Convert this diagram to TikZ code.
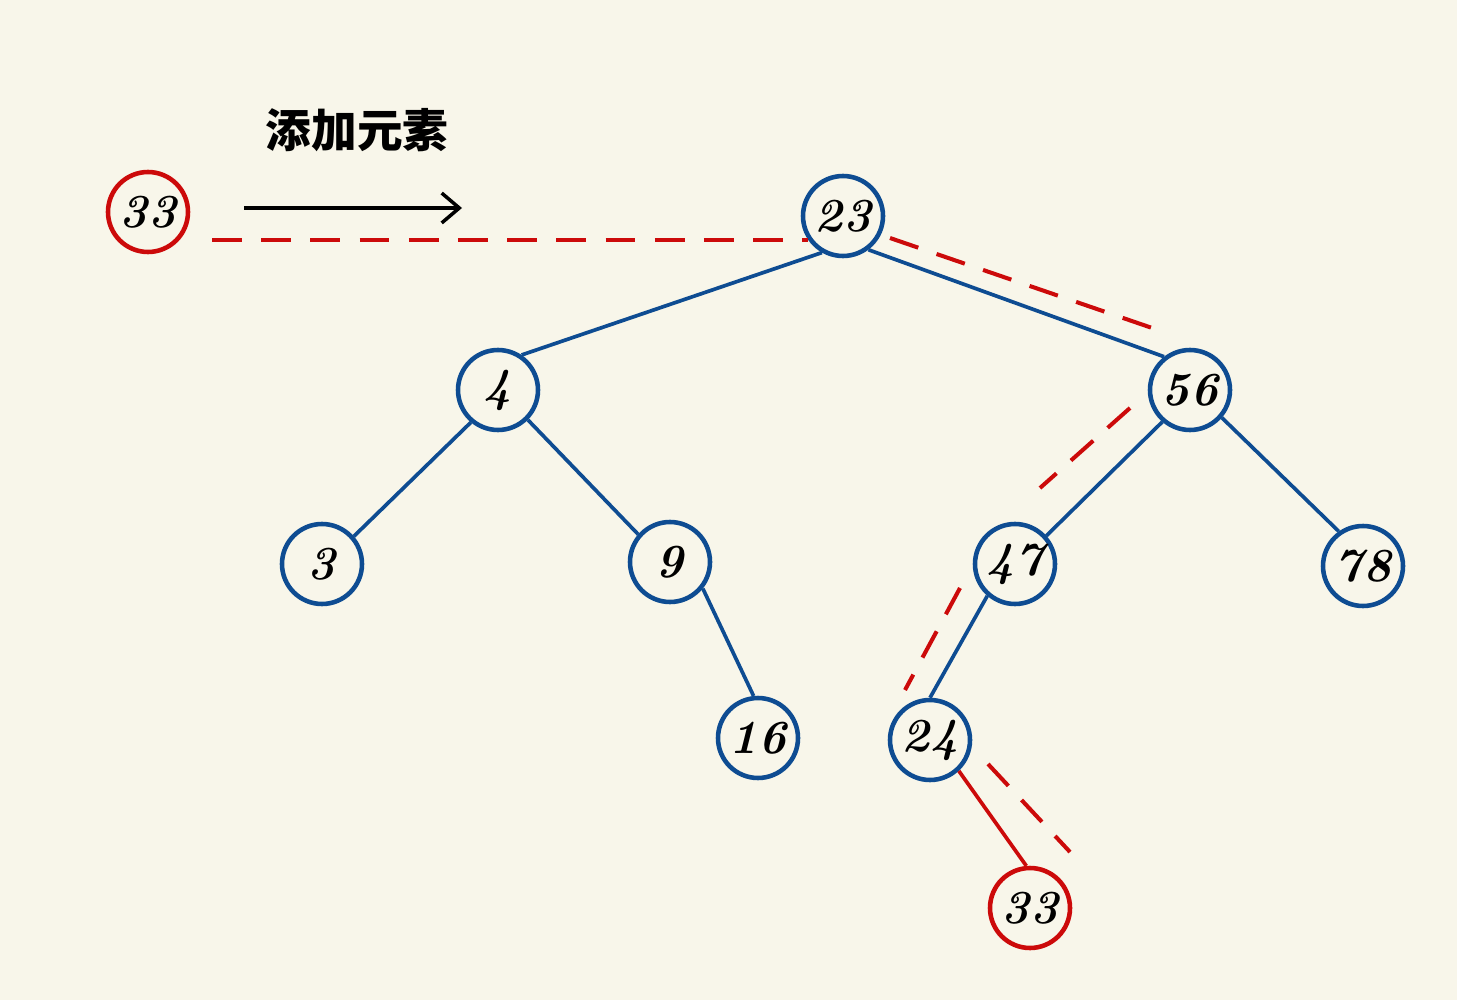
\documentclass[tikz,border=0pt]{standalone}
\usepackage{fontspec}
\newfontfamily\cjk{Noto Sans CJK SC}
\usetikzlibrary{arrows.meta}
\definecolor{bg}{HTML}{F8F6EA}
\definecolor{nblue}{HTML}{0E4C92}
\definecolor{nred}{HTML}{CC0A0A}
\tikzset{
  x=0.02cm, y=-0.02cm,
  bnode/.style={circle, draw=nblue, line width=2.6pt, inner sep=0pt, font=\fontsize{27}{27}\selectfont\bfseries\itshape, minimum size=1.6cm},
  rnode/.style={bnode, draw=nred},
  tedge/.style={draw=nblue, line width=2.1pt},
  redge/.style={draw=nred, line width=2.1pt},
  rdash/.style={draw=nred, line width=2.3pt, dash pattern=on 17pt off 11pt},
}
\begin{document}
\begin{tikzpicture}
\fill[bg] (0,0) rectangle (1457,1000);
\useasboundingbox (0,0) rectangle (1457,1000);
\node[rnode] (n33a) at (148,212) {33};
\node[bnode] (n23) at (843,216) {23};
\node[bnode] (n4) at (498,390) {4};
\node[bnode] (n56) at (1190,390) {56};
\node[bnode] (n3) at (322,564) {3};
\node[bnode] (n9) at (670,562) {9};
\node[bnode] (n47) at (1015,564) {47};
\node[bnode] (n78) at (1363,566) {78};
\node[bnode] (n16) at (758,738) {16};
\node[bnode] (n24) at (930,740) {24};
\node[rnode] (n33b) at (1030,908) {33};
\node[font=\cjk\bfseries\fontsize{26}{26}\selectfont] (lbl) at (357,130) {添加元素};
\coordinate (a1) at (244,208);
\coordinate (a2) at (462,208);
\draw[line width=2pt, -{Straight Barb[length=10pt,width=17pt]}] (a1) -- (a2);
\draw[tedge] (n23.240) -- (n4.56);
\draw[tedge] (n23.307) -- (n56.128);
\draw[tedge] (n4.230) -- (n3.41);
\draw[tedge] (n4.315) -- (n9.139);
\draw[tedge] (n9.321) -- (n16.96);
\draw[tedge] (n56.229) -- (n47.42);
\draw[tedge] (n56.319) -- (n78.125);
\draw[tedge] (n47.229) -- (n24.90);
\draw[redge] (n24.313) -- (n33b.95);
\coordinate (d1s) at (212,240); \coordinate (d1e) at (808,240);
\coordinate (d2s) at (890,238); \coordinate (d2e) at (1158,330);
\coordinate (d3s) at (1130,408); \coordinate (d3e) at (1040,488);
\coordinate (d4s) at (960,588); \coordinate (d4e) at (905,690);
\coordinate (d5s) at (988,764); \coordinate (d5e) at (1070,852);
\draw[rdash] (d1s) -- (d1e);
\draw[rdash] (d2s) -- (d2e);
\draw[rdash] (d3s) -- (d3e);
\draw[rdash] (d4s) -- (d4e);
\draw[rdash] (d5s) -- (d5e);
\end{tikzpicture}
\end{document}
